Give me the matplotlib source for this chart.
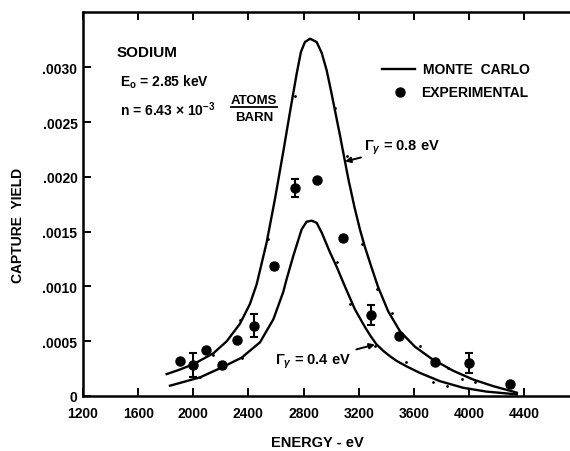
import matplotlib
matplotlib.use("Agg")
import matplotlib.pyplot as plt

# Monte Carlo curve, gamma = 0.8 eV
mc08_e = [1807, 1900, 2001, 2146, 2243, 2339, 2411, 2460, 2532, 2593, 2653, 2700,
          2750, 2781, 2810, 2847, 2895, 2932, 2968, 3000, 3064, 3125, 3170, 3209,
          3245, 3294, 3342, 3415, 3500, 3608, 3729, 3886, 4031, 4176, 4321, 4347]
mc08_y = [0.00020, 0.00024, 0.00029, 0.00039, 0.00050, 0.00066, 0.00084, 0.00102,
          0.00140, 0.00180, 0.00223, 0.00258, 0.00294, 0.00314, 0.00323, 0.00326,
          0.00323, 0.00313, 0.00297, 0.00278, 0.00238, 0.00198, 0.00172, 0.00152,
          0.00136, 0.00117, 0.00099, 0.00077, 0.00059, 0.00045, 0.00034, 0.00023,
          0.00015, 0.00009, 0.00004, 0.00003]

# Monte Carlo curve, gamma = 0.4 eV
mc04_e = [1831, 2049, 2206, 2351, 2484, 2581, 2653, 2678, 2726, 2786, 2822, 2859,
          2895, 2932, 2992, 3040, 3100, 3173, 3245, 3290, 3330, 3380, 3430, 3476,
          3548, 3645, 3790, 3958, 4128, 4321, 4347]
mc04_y = [0.000094, 0.00017, 0.00026, 0.00035, 0.00049, 0.00070, 0.00095, 0.00107,
          0.00128, 0.00152, 0.00159, 0.00160, 0.00158, 0.00149, 0.00131, 0.00118,
          0.00100, 0.00079, 0.00063, 0.00054, 0.00047, 0.00041, 0.00036, 0.00032,
          0.00027, 0.00021, 0.000135, 0.000075, 0.00004, 0.000018, 0.000015]

# small Monte Carlo sample dots
dots_e = [2145, 2339, 2544, 2738, 3028, 3113, 3222, 3330, 3439, 3645, 3850,
          2049, 2351, 3040, 3137, 3318, 3543, 3742, 3838, 3946, 4043]
dots_y = [0.00037, 0.00069, 0.00143, 0.00274, 0.00263, 0.00219, 0.00139, 0.00098,
          0.00076, 0.00046, 0.00026,
          0.00017, 0.00035, 0.00122, 0.00084, 0.00046, 0.00031, 0.000125, 0.000094,
          0.000155, 0.000125]

# experimental points
exp_e = [1904, 1996, 2090, 2206, 2319, 2441, 2588, 2738, 2900, 3089, 3287, 3492,
         3754, 3997, 4297]
exp_y = [0.00032, 0.00028, 0.00042, 0.00028, 0.00051, 0.00064, 0.00119, 0.00190,
         0.00197, 0.00144, 0.00074, 0.00055, 0.00031, 0.00030, 0.00011]
exp_err = [0, 0.00011, 0, 0, 0, 0.000105, 0, 0.00008, 0, 0, 0.00009, 0, 0,
           0.00009, 0]

x_ticks = [1200, 1600, 2000, 2400, 2800, 3200, 3600, 4000, 4400]
y_ticks = [0, 0.0005, 0.0010, 0.0015, 0.0020, 0.0025, 0.0030]
y_labels = ['0', '.0005', '.0010', '.0015', '.0020', '.0025', '.0030']

plt.rcParams['font.family'] = ['Liberation Sans', 'DejaVu Sans']
plt.rcParams['font.weight'] = 'bold'
plt.rcParams['mathtext.fontset'] = 'custom'
plt.rcParams['mathtext.rm'] = 'Liberation Sans:bold'
plt.rcParams['mathtext.it'] = 'Liberation Sans:bold:italic'
plt.rcParams['mathtext.bf'] = 'Liberation Sans:bold'

fig = plt.figure(figsize=(5.7, 4.52), dpi=100)
ax = fig.add_axes([83 / 570, 55 / 452, 487 / 570, 384 / 452])

ax.plot(mc08_e, mc08_y, color='black', lw=1.7)
ax.plot(mc04_e, mc04_y, color='black', lw=1.7)
ax.plot(dots_e, dots_y, 'o', color='black', ms=2, mew=0)

for e, y, err in zip(exp_e, exp_y, exp_err):
    if err > 0:
        ax.errorbar(e, y, yerr=err, fmt='o', color='black', ms=6.5,
                    elinewidth=1.5, capsize=3, capthick=1.5)
    else:
        ax.plot(e, y, 'o', color='black', ms=6.5)

ax.set_xlim(1200, 4733)
ax.set_ylim(0, 0.003504)
ax.set_xticks(x_ticks)
ax.set_xticklabels([str(t) for t in x_ticks])
ax.set_yticks(y_ticks)
ax.set_yticklabels(y_labels)
ax.tick_params(axis='x', direction='in', length=6, width=1.4, top=True,
               labelsize=10, pad=7)
ax.tick_params(axis='y', direction='in', length=6, width=1.4, labelsize=10, pad=4)
ax.spines['right'].set_visible(False)
for s in ['left', 'bottom', 'top']:
    ax.spines[s].set_linewidth(1.8)

fig.text(18 / 570, 1 - 225 / 452, 'CAPTURE  YIELD', rotation=90, ha='center',
         va='center', fontsize=10, fontweight='bold')
fig.text(317 / 570, 1 - 443 / 452, 'ENERGY - eV', ha='center', va='center',
         fontsize=10.5, fontweight='bold')

# sample description
ax.text(1447, 0.00314, 'SODIUM', fontsize=11, va='center', fontweight='bold')
ax.text(1468, 0.00287, r'E$_{\mathrm{o}}$ = 2.85 keV', fontsize=10, va='center',
        fontweight='bold')
ax.text(1468, 0.00262, r'n = 6.43 $\times$ 10$^{-3}$', fontsize=10, va='center',
        fontweight='bold')
ax.text(2440, 0.00270, 'ATOMS', fontsize=9.5, ha='center', va='center',
        fontweight='bold')
ax.plot([2274, 2607], [0.00264, 0.00264], color='black', lw=1.3)
ax.text(2440, 0.00255, 'BARN', fontsize=9.5, ha='center', va='center',
        fontweight='bold')

# legend drawn by hand
ax.plot([3369, 3608], [0.00298, 0.00298], color='black', lw=1.7)
ax.text(3666, 0.00298, 'MONTE  CARLO', fontsize=10, va='center', fontweight='bold')
ax.plot(3500, 0.00277, 'o', color='black', ms=6.5)
ax.text(3652, 0.00277, 'EXPERIMENTAL', fontsize=10, va='center', fontweight='bold')

# curve labels
ax.annotate(r'$\Gamma_{\gamma}$ = 0.8 eV', xy=(3101, 0.00214), xytext=(3238, 0.00227),
            fontsize=10.5, va='center', fontweight='bold',
            arrowprops=dict(arrowstyle='-|>', color='black', lw=1.4,
                            mutation_scale=8, shrinkA=0, shrinkB=0))
ax.annotate(r'$\Gamma_{\gamma}$ = 0.4 eV', xy=(3318, 0.00047), xytext=(2593, 0.00032),
            fontsize=10.5, va='center', fontweight='bold',
            arrowprops=dict(arrowstyle='-|>', color='black', lw=1.4,
                            mutation_scale=8, shrinkA=2, shrinkB=0))

fig.savefig('out.png', dpi=100)
